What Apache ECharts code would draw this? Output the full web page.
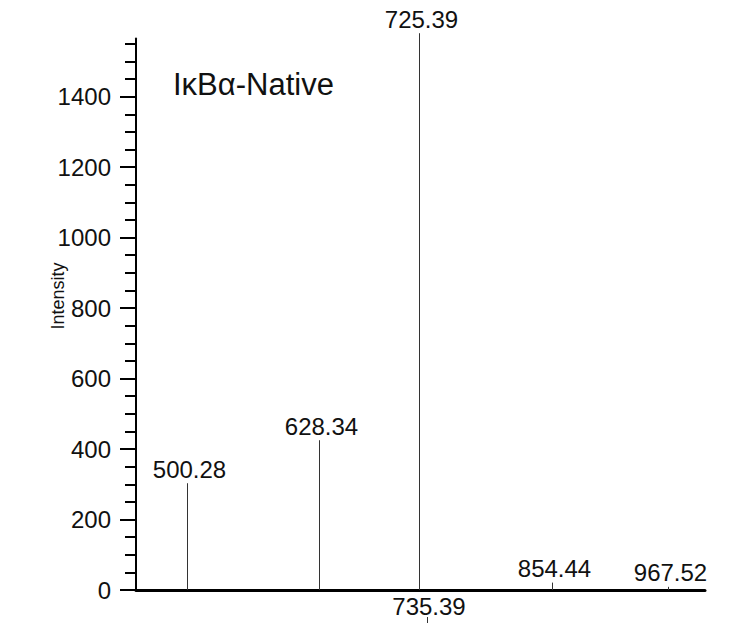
<!DOCTYPE html>
<html>
<head>
<meta charset="utf-8">
<style>
html, body { margin: 0; padding: 0; background: #fff; }
#chart { width: 729px; height: 623px; }
</style>
<script src="https://cdn.jsdelivr.net/npm/echarts@6/dist/echarts.min.js"></script>
</head>
<body>
<div id="chart"></div>
<script>
// Centroided peaks of the native IκBα spectrum
const peakMz = [500.28, 628.34, 725.39, 854.44, 967.52];
const peakIntensity = [303, 425, 1580, 21, 9];
const peakLabels = ['500.28', '628.34', '725.39', '854.44', '967.52'];

// m/z annotated just under the baseline
const baseNoteMz = [735.39];
const baseNoteLabels = ['735.39'];

// Intensity axis ticks
const majorTicks = [0, 200, 400, 600, 800, 1000, 1200, 1400];
const minorTicks = [50, 100, 150, 250, 300, 350, 450, 500, 550, 650, 700, 750,
                    850, 900, 950, 1050, 1100, 1150, 1250, 1300, 1350, 1450, 1500, 1550];

const mzRange = [451.2, 1003.1];
const intensityMax = 1565;

const titleText = 'IκBα-Native';
const yAxisTitle = 'Intensity';

const FONT = '"Liberation Sans", Arial, Helvetica, sans-serif';
const INK = '#111';

const peakData = peakMz.map((m, i) => [m, peakIntensity[i]]);
const noteData = baseNoteMz.map(m => [m, 0]);

// One vertical stick per peak, labelled with its m/z
function renderStick(params, api) {
  const base = api.coord([api.value(0), 0]);
  const top = api.coord([api.value(0), api.value(1)]);
  const px = Math.round(base[0]) + 0.5;
  return {
    type: 'group',
    children: [
      {
        type: 'line',
        shape: { x1: px, y1: base[1], x2: px, y2: top[1] },
        style: { stroke: '#333', lineWidth: 1 }
      },
      {
        type: 'text',
        x: px + 2,
        y: top[1] - 2,
        style: {
          text: peakLabels[params.dataIndex],
          align: 'center',
          verticalAlign: 'bottom',
          fontSize: 24,
          fontFamily: FONT,
          fill: INK
        }
      }
    ]
  };
}

// Text under the baseline at a given m/z, with a short tick below it
function renderNote(params, api) {
  const p = api.coord([api.value(0), 0]);
  const px = Math.round(p[0]) - 1.5;
  return {
    type: 'group',
    children: [
      {
        type: 'text',
        x: p[0],
        y: p[1] + 4,
        style: {
          text: baseNoteLabels[params.dataIndex],
          align: 'center',
          verticalAlign: 'top',
          fontSize: 24,
          fontFamily: FONT,
          fill: INK
        }
      },
      {
        type: 'line',
        shape: { x1: px, y1: p[1] + 27, x2: px, y2: p[1] + 34 },
        style: { stroke: '#333', lineWidth: 1 }
      }
    ]
  };
}

const chart = echarts.init(document.getElementById('chart'), null, { renderer: 'svg' });

chart.setOption({
  animation: false,
  backgroundColor: '#fff',
  grid: { left: 136, right: 24, top: 38.5, bottom: 33, containLabel: false },
  xAxis: {
    type: 'value',
    min: mzRange[0],
    max: mzRange[1],
    axisLine: { show: true, onZero: false, lineStyle: { color: '#000', width: 3 } },
    axisTick: { show: false },
    axisLabel: { show: false },
    splitLine: { show: false }
  },
  yAxis: [
    {
      type: 'value',
      min: 0,
      max: intensityMax,
      position: 'left',
      axisLine: { show: true, lineStyle: { color: '#000', width: 2 } },
      axisTick: { show: true, length: 16, customValues: majorTicks, lineStyle: { color: '#000', width: 2 } },
      axisLabel: {
        customValues: majorTicks,
        formatter: v => String(v),
        margin: 25,
        fontSize: 24,
        fontFamily: FONT,
        color: INK
      },
      splitLine: { show: false }
    },
    {
      type: 'value',
      min: 0,
      max: intensityMax,
      position: 'left',
      axisLine: { show: false },
      axisTick: { show: true, length: 11, customValues: minorTicks, lineStyle: { color: '#000', width: 2 } },
      axisLabel: { show: false },
      splitLine: { show: false }
    }
  ],
  graphic: [
    {
      type: 'text',
      x: 173,
      y: 84,
      style: { text: titleText, fontSize: 31, fontFamily: FONT, fill: INK, align: 'left', verticalAlign: 'middle' }
    },
    {
      type: 'text',
      x: 58,
      y: 296,
      rotation: Math.PI / 2,
      style: { text: yAxisTitle, fontSize: 18, fontFamily: FONT, fill: INK, align: 'center', verticalAlign: 'middle' }
    }
  ],
  series: [
    {
      type: 'custom',
      name: 'peaks',
      clip: false,
      renderItem: renderStick,
      data: peakData,
      z: 3
    },
    {
      type: 'custom',
      name: 'baseline notes',
      clip: false,
      renderItem: renderNote,
      data: noteData,
      z: 3
    }
  ]
});
</script>
</body>
</html>
